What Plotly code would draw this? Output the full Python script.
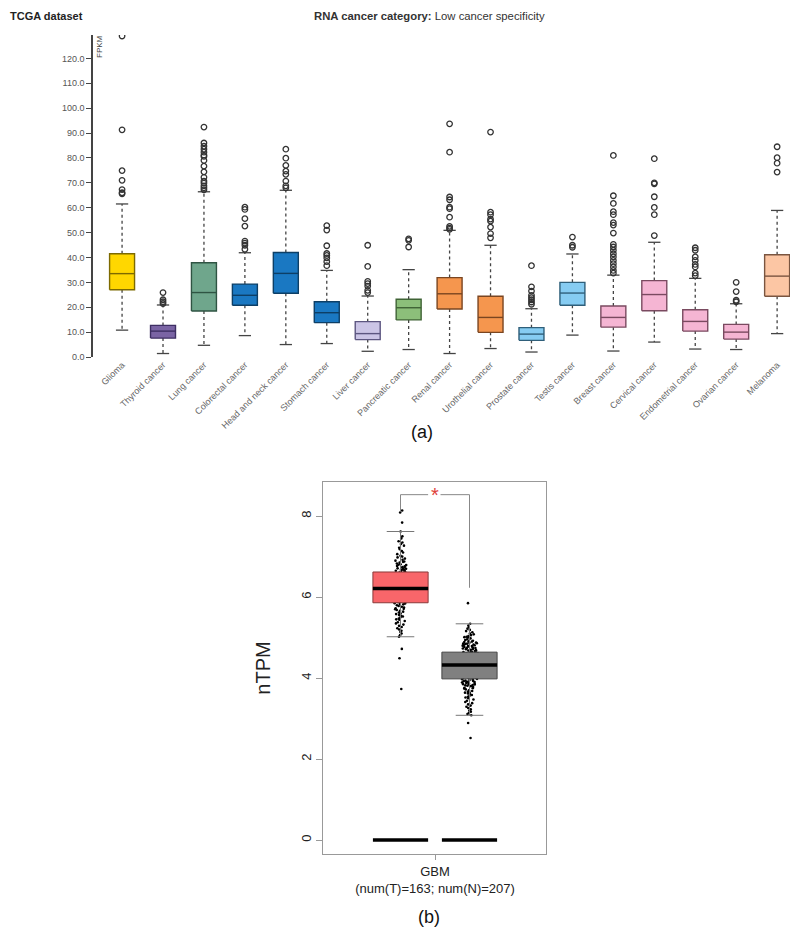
import plotly.graph_objects as go

W, H = 798, 934

# ---- (a) TCGA dataset, FPKM per cancer type ----
cancers = ["Glioma", "Thyroid cancer", "Lung cancer", "Colorectal cancer",
           "Head and neck cancer", "Stomach cancer", "Liver cancer",
           "Pancreatic cancer", "Renal cancer", "Urothelial cancer",
           "Prostate cancer", "Testis cancer", "Breast cancer",
           "Cervical cancer", "Endometrial cancer", "Ovarian cancer", "Melanoma"]
q1 = [27.0, 7.6, 18.5, 20.8, 25.6, 13.8, 7.0, 14.9, 19.3, 9.9, 6.7, 20.8, 12.0, 18.6, 10.4, 7.2, 24.4]
med = [33.5, 10.4, 25.9, 24.8, 33.6, 17.8, 9.4, 19.8, 25.4, 15.9, 9.2, 25.7, 15.9, 25.1, 14.3, 10.0, 32.5]
q3 = [41.5, 12.7, 37.9, 29.3, 42.0, 22.2, 14.2, 23.2, 31.9, 24.4, 11.8, 30.0, 20.5, 30.7, 19.0, 13.1, 41.1]
wlo = [10.8, 1.4, 4.7, 8.6, 5.0, 5.4, 2.3, 3.0, 1.4, 3.4, 2.0, 8.8, 2.4, 6.0, 3.2, 3.0, 9.4]
whi = [61.5, 20.9, 66.4, 41.9, 67.0, 34.8, 24.5, 35.1, 50.9, 44.9, 19.4, 41.4, 32.9, 46.1, 31.6, 21.4, 58.9]
outliers = [
    [129.0, 91.3, 74.9, 71.0, 67.3, 66.0, 65.6],
    [25.9, 23.0, 22.2, 21.5],
    [92.4, 86.0, 84.7, 83.5, 82.3, 81.1, 80.6, 79.0, 76.7, 74.4, 72.2, 70.7, 69.9, 68.8, 68.0, 67.2],
    [60.2, 59.3, 55.6, 52.6, 46.6, 45.8, 44.9, 43.3],
    [83.5, 79.9, 77.0, 74.7, 73.4, 70.7, 68.8, 68.0],
    [52.8, 51.0, 44.7, 41.6, 40.8, 39.8, 38.3, 36.7],
    [44.9, 36.4, 30.4, 29.5, 28.5, 26.8, 25.9],
    [47.5, 46.9, 44.2],
    [93.7, 82.3, 64.3, 63.2, 60.2, 59.6, 56.2, 52.5, 51.8, 51.3],
    [90.4, 58.2, 57.2, 55.4, 54.6, 52.2, 49.6, 47.9],
    [36.7, 28.2, 26.5, 24.8, 23.9, 23.0, 22.1, 21.2],
    [48.2, 44.9, 44.1],
    [81.0, 64.8, 61.7, 58.4, 57.2, 54.0, 53.0, 49.8, 45.3, 44.2, 42.9, 41.5, 40.2, 38.8, 37.5, 36.2, 34.8, 33.7],
    [79.7, 70.0, 69.6, 64.4, 60.1, 57.2, 48.8],
    [43.9, 42.9, 40.2, 38.8, 37.2, 36.2, 33.7, 32.7],
    [30.0, 26.3, 22.8, 22.2],
    [84.5, 80.1, 77.9, 74.3],
]
fills = ["#FFD700", "#7A64A4", "#6FA68C", "#1A78C2", "#1A78C2", "#1A78C2", "#CBC5E6",
         "#8CBF7A", "#F5964E", "#F5964E", "#86CCF2", "#86CCF2", "#F5B5D3", "#F5B5D3",
         "#F5B5D3", "#F5B5D3", "#FCC6A4"]
edges = ["#7D6A00", "#3E2F63", "#2F5443", "#0D3F66", "#0D3F66", "#0D3F66", "#5C5680",
         "#3F6335", "#7A4520", "#7A4520", "#2F5F7A", "#2F5F7A", "#7A4A60", "#7A4A60",
         "#7A4A60", "#7A4A60", "#7A5540"]
yticks_a = [0, 10, 20, 30, 40, 50, 60, 70, 80, 90, 100, 110, 120]

# ---- (b) GBM nTPM, tumor vs normal ----
groups = ["Tumor", "Normal"]
grp_q1 = [5.86, 3.98]
grp_med = [6.21, 4.32]
grp_q3 = [6.62, 4.64]
grp_lo = [5.02, 3.08]
grp_hi = [7.62, 5.34]
tumor_pts = [
    8.14, 8.09, 7.84, 7.62, 7.45, 7.38, 7.31, 7.27, 7.22, 7.18,
    7.14, 7.10, 7.06, 7.02, 6.98, 6.95, 6.92, 6.90, 6.88, 6.85,
    6.83, 6.81, 6.79, 6.77, 6.76, 6.74, 6.73, 6.71, 6.70, 6.69,
    6.68, 6.67, 6.66, 6.65, 6.64, 6.63, 7.50, 7.35, 7.00, 6.87,
    6.80, 6.61, 6.60, 6.59, 6.58, 6.57, 6.56, 6.55, 6.54, 6.52,
    6.51, 6.50, 6.49, 6.48, 6.47, 6.46, 6.45, 6.44, 6.42, 6.41,
    6.40, 6.39, 6.38, 6.36, 6.35, 6.34, 6.33, 6.32, 6.31, 6.30,
    6.29, 6.28, 6.27, 6.26, 6.25, 6.24, 6.23, 6.22, 6.22, 6.21,
    6.21, 6.53, 6.20, 6.19, 6.19, 6.18, 6.17, 6.16, 6.15, 6.14,
    6.13, 6.12, 6.11, 6.10, 6.09, 6.08, 6.07, 6.06, 6.05, 6.04,
    6.03, 6.02, 6.01, 6.00, 5.99, 5.98, 5.97, 5.96, 5.95, 5.94,
    5.93, 5.92, 5.91, 5.90, 5.89, 5.88, 5.87, 5.87, 6.16, 6.08,
    5.99, 5.93, 6.13, 5.85, 5.84, 5.82, 5.80, 5.78, 5.76, 5.74,
    5.72, 5.70, 5.68, 5.66, 5.64, 5.62, 5.60, 5.58, 5.56, 5.54,
    5.52, 5.50, 5.47, 5.44, 5.41, 5.38, 5.35, 5.32, 5.29, 5.26,
    5.23, 5.20, 5.17, 5.14, 5.10, 5.06, 5.02, 4.72, 4.49, 3.73,
    5.83, 5.71, 5.45,
]
normal_pts = [
    5.85, 5.34, 5.30, 5.26, 5.22, 5.19, 5.16, 5.13, 5.10, 5.08,
    5.06, 5.04, 5.02, 5.00, 4.98, 4.96, 4.94, 4.92, 4.90, 4.89,
    4.88, 4.87, 4.86, 4.85, 4.84, 4.83, 4.82, 4.81, 4.80, 4.79,
    4.78, 4.77, 4.76, 4.75, 4.74, 4.73, 4.72, 4.71, 4.70, 4.69,
    4.68, 4.67, 4.66, 4.65, 4.65, 4.91, 4.85, 4.79, 4.73, 5.01,
    4.64, 4.63, 4.62, 4.61, 4.60, 4.59, 4.58, 4.57, 4.56, 4.55,
    4.54, 4.53, 4.52, 4.51, 4.50, 4.49, 4.48, 4.47, 4.46, 4.45,
    4.44, 4.43, 4.42, 4.41, 4.40, 4.39, 4.38, 4.37, 4.36, 4.35,
    4.34, 4.33, 4.33, 4.32, 4.32, 4.57, 4.51, 4.45, 4.39, 4.36,
    4.62, 4.48, 4.42, 4.55, 4.34, 4.60, 4.47, 4.38, 4.53, 4.41,
    4.33, 4.58, 4.31, 4.30, 4.29, 4.28, 4.27, 4.26, 4.25, 4.24,
    4.23, 4.22, 4.21, 4.20, 4.19, 4.18, 4.17, 4.16, 4.15, 4.14,
    4.13, 4.12, 4.11, 4.10, 4.09, 4.08, 4.07, 4.06, 4.05, 4.04,
    4.03, 4.02, 4.01, 4.00, 3.99, 3.99, 3.98, 4.28, 4.22, 4.16,
    4.10, 4.04, 4.30, 4.19, 4.13, 4.07, 4.25, 4.01, 4.27, 4.15,
    4.09, 4.20, 4.11, 4.03, 3.97, 3.96, 3.95, 3.94, 3.93, 3.92,
    3.91, 3.90, 3.89, 3.88, 3.87, 3.86, 3.85, 3.84, 3.83, 3.82,
    3.81, 3.80, 3.78, 3.76, 3.74, 3.72, 3.70, 3.68, 3.66, 3.64,
    3.62, 3.60, 3.58, 3.56, 3.54, 3.52, 3.50, 3.47, 3.44, 3.41,
    3.38, 3.35, 3.32, 3.29, 3.26, 3.23, 3.20, 3.17, 3.14, 3.11,
    3.08, 2.89, 2.52, 3.90, 3.84, 3.75, 3.65,
]
zero_level = [0.0, 0.0]
sig_y = 8.53
grp_fill = ["#F8666A", "#808080"]
grp_edge = ["#8A3A3A", "#444444"]

# the page body adds an 8px margin, so place everything relative to that
OFF = 8


def px(x):
    return (x - OFF) / W


def py(y):
    return 1 - (y - OFF) / H


FONT = "Liberation Sans, Arial, sans-serif"
fig = go.Figure()

# (a) boxes drawn from the stats
hw, cw = 0.305, 0.15
wx, wy, cx, cy = [], [], [], []
for i in range(len(cancers)):
    wx += [i, i, None, i, i, None]
    wy += [q3[i], whi[i], None, q1[i], wlo[i], None]
    cx += [i - cw, i + cw, None, i - cw, i + cw, None]
    cy += [whi[i], whi[i], None, wlo[i], wlo[i], None]
fig.add_trace(go.Scatter(x=wx, y=wy, mode="lines", line=dict(color="#444", width=1.3, dash="dot"),
                         xaxis="x", yaxis="y", hoverinfo="skip"))
fig.add_trace(go.Scatter(x=cx, y=cy, mode="lines", line=dict(color="#444", width=1.3),
                         xaxis="x", yaxis="y", hoverinfo="skip"))
for i in range(len(cancers)):
    fig.add_trace(go.Scatter(
        x=[i - hw, i + hw, i + hw, i - hw, i - hw], y=[q1[i], q1[i], q3[i], q3[i], q1[i]],
        mode="lines", fill="toself", fillcolor=fills[i], line=dict(color=edges[i], width=1.4),
        xaxis="x", yaxis="y", name=cancers[i]))
    fig.add_trace(go.Scatter(x=[i - hw, i + hw], y=[med[i], med[i]], mode="lines",
                             line=dict(color=edges[i], width=1.4), xaxis="x", yaxis="y",
                             hoverinfo="skip"))
ox, oy = [], []
for i, vals in enumerate(outliers):
    ox += [i] * len(vals)
    oy += vals
fig.add_trace(go.Scatter(x=ox, y=oy, mode="markers",
                         marker=dict(symbol="circle-open", size=5.5, color="#333", line=dict(width=1.3)),
                         xaxis="x", yaxis="y"))

# (b) boxes
pos = [-0.5, 0.5]
bw, capw = 0.4, 0.2
for k in range(2):
    c = pos[k]
    fig.add_trace(go.Scatter(x=[c, c, None, c, c], y=[grp_q3[k], grp_hi[k], None, grp_q1[k], grp_lo[k]],
                             mode="lines", line=dict(color="#777", width=1), xaxis="x2", yaxis="y2",
                             hoverinfo="skip"))
    fig.add_trace(go.Scatter(x=[c - capw, c + capw, None, c - capw, c + capw],
                             y=[grp_hi[k], grp_hi[k], None, grp_lo[k], grp_lo[k]],
                             mode="lines", line=dict(color="#777", width=1), xaxis="x2", yaxis="y2",
                             hoverinfo="skip"))
    fig.add_trace(go.Scatter(
        x=[c - bw, c + bw, c + bw, c - bw, c - bw],
        y=[grp_q1[k], grp_q1[k], grp_q3[k], grp_q3[k], grp_q1[k]],
        mode="lines", fill="toself", fillcolor=grp_fill[k], line=dict(color=grp_edge[k], width=1),
        xaxis="x2", yaxis="y2", name=groups[k]))
    fig.add_trace(go.Scatter(x=[c - bw, c + bw], y=[grp_med[k], grp_med[k]], mode="lines",
                             line=dict(color="black", width=3.5), xaxis="x2", yaxis="y2",
                             hoverinfo="skip"))
    fig.add_trace(go.Scatter(x=[c - bw, c + bw], y=[zero_level[k], zero_level[k]], mode="lines",
                             line=dict(color="black", width=3.5), xaxis="x2", yaxis="y2",
                             hoverinfo="skip"))

for k, pts in enumerate([tumor_pts, normal_pts]):
    fig.add_trace(go.Box(y=pts, x0=pos[k], boxpoints="all", jitter=0.32, pointpos=0, width=0.8,
                         fillcolor="rgba(0,0,0,0)", line=dict(width=0),
                         marker=dict(size=2.6, color="black"), xaxis="x2", yaxis="y2",
                         name=groups[k]))

# significance bracket
fig.add_trace(go.Scatter(x=[pos[0], pos[0], -0.1, None, 0.08, pos[1], pos[1]],
                         y=[8.12, sig_y, sig_y, None, sig_y, sig_y, grp_med[0] + 0.02],
                         mode="lines", line=dict(color="#888", width=1), xaxis="x2", yaxis="y2",
                         hoverinfo="skip"))

fig.update_layout(
    width=W, height=H, margin=dict(l=0, r=0, t=0, b=0, autoexpand=False),
    paper_bgcolor="white", plot_bgcolor="white", showlegend=False,
    boxmode="overlay", font=dict(family=FONT),
    xaxis=dict(domain=[px(93), px(798)], range=[-0.71, 16.51], tickmode="array",
               tickvals=list(range(len(cancers))), ticktext=cancers, tickangle=-45,
               tickfont=dict(size=9, color="#666"), showline=False, showgrid=False,
               zeroline=False, ticks="", automargin=False),
    yaxis=dict(domain=[py(357), py(35)], range=[0, 129.4], tickmode="array",
               tickvals=yticks_a, ticktext=["%.1f" % v for v in yticks_a],
               tickfont=dict(size=9, color="#555"), showline=True, linecolor="#444",
               linewidth=1.5, ticks="outside", ticklen=5, tickcolor="#444",
               showgrid=False, zeroline=False, automargin=False),
    xaxis2=dict(domain=[px(322.7), px(546)], range=[-1.628, 1.609], tickmode="array",
                tickvals=[0], ticktext=["GBM<br>(num(T)=163; num(N)=207)"],
                tickfont=dict(size=13, color="#222"), showline=True, mirror=True,
                linecolor="#999", linewidth=1, ticks="outside", ticklen=5, tickcolor="#999",
                showgrid=False, zeroline=False, anchor="y2", automargin=False),
    yaxis2=dict(domain=[py(854.3), py(481.7)], range=[-0.353, 8.85], tickmode="array",
                tickvals=[0, 2, 4, 6, 8], tickangle=-90,
                tickfont=dict(size=13, color="#222"), showline=True, mirror=True,
                linecolor="#999", linewidth=1, ticks="outside", ticklen=6, tickcolor="#999",
                showgrid=False, zeroline=False, anchor="x2", automargin=False,
                title=dict(text="nTPM", font=dict(size=20, color="#222"), standoff=22)),
)

ann = [
    dict(x=px(8), y=py(OFF), text="<b>TCGA dataset</b>", xanchor="left", yanchor="top",
         font=dict(size=11, color="#222")),
    dict(x=px(312), y=py(OFF), text="<b>RNA cancer category:</b> Low cancer specificity",
         xanchor="left", yanchor="top", font=dict(size=11.3, color="#333")),
    dict(x=px(100), y=py(47), text="FPKM", textangle=-90, font=dict(size=8, color="#444")),
    dict(x=px(422), y=py(432), text="(a)", font=dict(size=18, color="#111")),
    dict(x=px(429), y=py(917), text="(b)", font=dict(size=18, color="#111")),
]
for a in ann:
    a.update(xref="paper", yref="paper", showarrow=False)
    a.setdefault("xanchor", "center")
    a.setdefault("yanchor", "middle")
    fig.add_annotation(**a)
fig.add_annotation(x=0, y=sig_y, xref="x2", yref="y2", text="*", showarrow=False,
                   font=dict(size=20, color="#E0403A"), yanchor="middle")

fig.write_html("out.html")
